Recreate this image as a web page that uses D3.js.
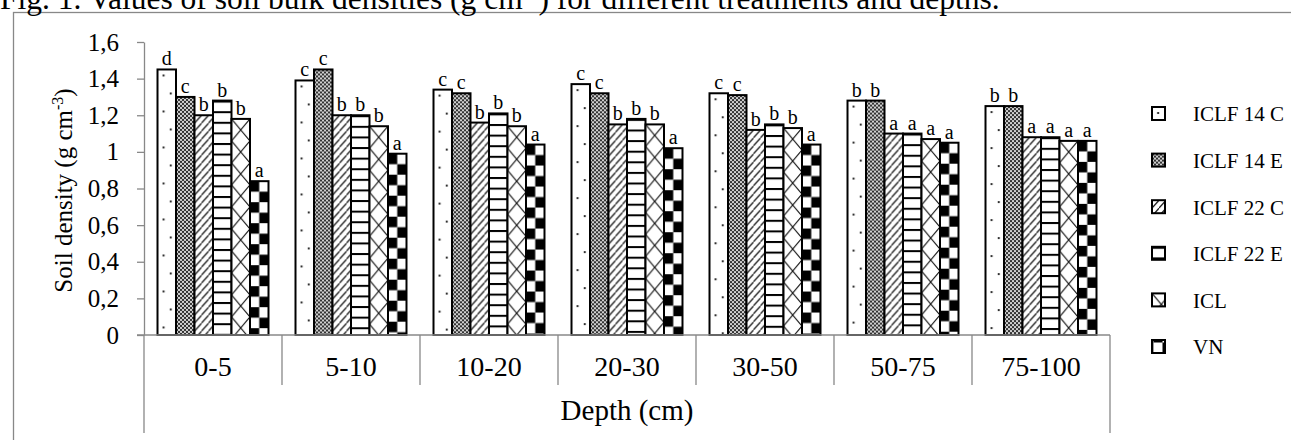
<!DOCTYPE html>
<html>
<head>
<meta charset="utf-8">
<script src="https://cdn.jsdelivr.net/npm/d3@7"></script>
<style>
  html, body { margin: 0; padding: 0; background: #fff; }
  svg { display: block; }
  text { font-family: "Liberation Serif", "Times New Roman", serif; fill: #000; }
</style>
</head>
<body>
<svg id="chart" width="1291" height="440"></svg>
<script>
// ---------------- data ----------------
const categories = ["0-5", "5-10", "10-20", "20-30", "30-50", "50-75", "75-100"];
const seriesNames = ["ICLF 14 C", "ICLF 14 E", "ICLF 22 C", "ICLF 22 E", "ICL", "VN"];
const iclf14C = [1.45, 1.39, 1.34, 1.37, 1.32, 1.28, 1.25];
const iclf14E = [1.30, 1.45, 1.32, 1.32, 1.31, 1.28, 1.25];
const iclf22C = [1.20, 1.20, 1.16, 1.15, 1.12, 1.10, 1.08];
const iclf22E = [1.28, 1.20, 1.21, 1.18, 1.15, 1.10, 1.08];
const icl     = [1.18, 1.14, 1.14, 1.15, 1.13, 1.07, 1.06];
const vn      = [0.84, 0.99, 1.04, 1.02, 1.04, 1.05, 1.06];
const letters14C = ["d", "c", "c", "c", "c", "b", "b"];
const letters14E = ["c", "c", "c", "c", "c", "b", "b"];
const letters22C = ["b", "b", "b", "b", "b", "a", "a"];
const letters22E = ["b", "b", "b", "b", "b", "a", "a"];
const lettersICL = ["b", "b", "b", "b", "b", "a", "a"];
const lettersVN  = ["a", "a", "a", "a", "a", "a", "a"];
const yTicks = [0, 0.2, 0.4, 0.6, 0.8, 1, 1.2, 1.4, 1.6];
const yTickLabels = ["0", "0,2", "0,4", "0,6", "0,8", "1", "1,2", "1,4", "1,6"];
const titleText = "Fig. 1. Values of soil bulk densities (g cm";
const titleTail = ") for different treatments and depths.";
const yTitle = "Soil density (g cm";
const xTitle = "Depth (cm)";

const seriesValues = [iclf14C, iclf14E, iclf22C, iclf22E, icl, vn];
const seriesLetters = [letters14C, letters14E, letters22C, letters22E, lettersICL, lettersVN];

// ---------------- setup ----------------
const svg = d3.select("#chart");
const W = 1291, H = 440;
const plotLeft = 144, plotRight = 1110, plotTop = 42, plotBottom = 335;

const x0 = d3.scaleBand().domain(categories).range([plotLeft, plotRight]).paddingInner(0).paddingOuter(0);
const x1 = d3.scaleBand().domain(seriesNames).range([0, x0.bandwidth()]).paddingInner(0).paddingOuter(0.73);
const y = d3.scaleLinear().domain([0, 1.6]).range([plotBottom, plotTop]);
const bw = x1.bandwidth();

// outer frame
svg.append("rect").attr("x", 13.5).attr("y", 12.5).attr("width", W + 20).attr("height", H + 20)
  .attr("fill", "none").attr("stroke", "#888").attr("stroke-width", 1.3);

// title (clipped at the top like the reference)
const tt = svg.append("text").attr("x", 0).attr("y", 9).attr("font-size", 31.5);
tt.append("tspan").text(titleText);
tt.append("tspan").attr("dy", -11).attr("font-size", 19).text("-3");
tt.append("tspan").attr("dy", 11).text(titleTail);

// ---------------- patterns ----------------
const defs = svg.append("defs");
function makePattern(id, s, ox, oy) {
  const p = defs.append("pattern").attr("id", id).attr("patternUnits", "userSpaceOnUse")
    .attr("x", ox).attr("y", oy);
  if (s === 0) { // sparse dots
    p.attr("width", bw).attr("height", 36);
    p.append("rect").attr("width", bw).attr("height", 36).attr("fill", "#fff");
    p.append("circle").attr("cx", bw * 0.33).attr("cy", 6).attr("r", 1.1).attr("fill", "#000");
    p.append("circle").attr("cx", bw * 0.72).attr("cy", 24).attr("r", 1.1).attr("fill", "#000");
  } else if (s === 1) { // dense dots (grey)
    p.attr("width", 4).attr("height", 4);
    p.append("rect").attr("width", 4).attr("height", 4).attr("fill", "#d0d0d0");
    p.append("rect").attr("x", 0).attr("y", 0).attr("width", 2).attr("height", 2).attr("fill", "#333");
    p.append("rect").attr("x", 2).attr("y", 2).attr("width", 2).attr("height", 2).attr("fill", "#333");
  } else if (s === 2) { // diagonal hatch
    p.attr("width", 7).attr("height", 8);
    p.append("rect").attr("width", 7).attr("height", 8).attr("fill", "#fff");
    p.append("path").attr("d", "M-1,9 L8,-1 M-4,4 L3,-4 M4,12 L11,4").attr("stroke", "#000").attr("stroke-width", 1.2);
  } else if (s === 3) { // horizontal lines
    p.attr("width", bw).attr("height", 10.6);
    p.append("rect").attr("width", bw).attr("height", 10.6).attr("fill", "#fff");
    p.append("rect").attr("x", 0).attr("y", 0).attr("width", bw).attr("height", 2).attr("fill", "#000");
  } else if (s === 4) { // diamond cross hatch
    p.attr("width", bw).attr("height", 22);
    p.append("rect").attr("width", bw).attr("height", 22).attr("fill", "#fff");
    p.append("path").attr("d", `M0,0 L${bw},22 M${bw},0 L0,22`).attr("stroke", "#000").attr("stroke-width", 1.1);
  } else { // big checker
    p.attr("width", bw).attr("height", 21);
    p.append("rect").attr("width", bw).attr("height", 21).attr("fill", "#fff");
    p.append("rect").attr("x", 0).attr("y", 0).attr("width", bw / 2).attr("height", 10.5).attr("fill", "#000");
    p.append("rect").attr("x", bw / 2).attr("y", 10.5).attr("width", bw / 2).attr("height", 10.5).attr("fill", "#000");
  }
}

// ---------------- bars ----------------
const bars = [];
categories.forEach((c, ci) => {
  seriesNames.forEach((s, si) => {
    bars.push({ cat: c, ci, si, series: s, value: seriesValues[si][ci], letter: seriesLetters[si][ci] });
  });
});
bars.forEach(d => {
  d.x = x0(d.cat) + x1(d.series);
  makePattern(`pat-${d.ci}-${d.si}`, d.si, d.x, y(d.value));
});

const gBars = svg.append("g");
gBars.selectAll("rect").data(bars).join("rect")
  .attr("x", d => d.x)
  .attr("y", d => y(d.value))
  .attr("width", bw)
  .attr("height", d => y(0) - y(d.value))
  .attr("fill", d => `url(#pat-${d.ci}-${d.si})`)
  .attr("stroke", "#000").attr("stroke-width", 2);

gBars.selectAll("text").data(bars).join("text")
  .attr("x", d => d.x + bw / 2)
  .attr("y", d => y(d.value) - 4)
  .attr("text-anchor", "middle")
  .attr("font-size", 20)
  .text(d => d.letter);

// ---------------- axes ----------------
const yAxis = d3.axisLeft(y).tickValues(yTicks).tickFormat((d, i) => yTickLabels[i])
  .tickSize(7).tickSizeOuter(0).tickPadding(18);
const gy = svg.append("g").attr("transform", `translate(${plotLeft},0)`).call(yAxis);
gy.selectAll("path, line").attr("stroke", "#888").attr("stroke-width", 1.3);
gy.selectAll("text").attr("font-size", 25).attr("font-family", "Liberation Serif");

// horizontal base line
svg.append("line").attr("x1", plotLeft - 7).attr("x2", plotRight).attr("y1", y(0)).attr("y2", y(0))
  .attr("stroke", "#888").attr("stroke-width", 1.3);

// category dividers
const bounds = categories.map(c => x0(c)).concat([x0(categories[categories.length - 1]) + x0.bandwidth()]);
svg.append("g").selectAll("line").data(bounds).join("line")
  .attr("x1", d => d).attr("x2", d => d)
  .attr("y1", y(0))
  .attr("y2", (d, i) => (i === 0 || i === bounds.length - 1) ? 433 : 385)
  .attr("stroke", "#888").attr("stroke-width", 1.3);

// category labels
const xAxis = d3.axisBottom(x0).tickSize(0).tickPadding(0);
const gx = svg.append("g").attr("transform", `translate(0,${y(0)})`).call(xAxis);
gx.select(".domain").remove();
gx.selectAll("text").attr("font-size", 28).attr("font-family", "Liberation Serif")
  .attr("dy", null).attr("y", 41);

// x title
svg.append("text").attr("x", (plotLeft + plotRight) / 2).attr("y", 420)
  .attr("text-anchor", "middle").attr("font-size", 29).text(xTitle);

// y title
const yt = svg.append("text").attr("transform", `translate(72,${(plotTop + plotBottom) / 2 + 2}) rotate(-90)`)
  .attr("text-anchor", "middle").attr("font-size", 25);
yt.append("tspan").text(yTitle);
yt.append("tspan").attr("dy", -9).attr("font-size", 16).text("-3");
yt.append("tspan").attr("dy", 9).text(")");

// ---------------- legend ----------------
const legY = d3.scalePoint().domain(seriesNames).range([114, 347]);
const gl = svg.append("g");
seriesNames.forEach((s, si) => {
  if (si === 5) makePattern(`lpat-${si}`, si, 1152 - 8, legY(s) - 4.5);
  else makePattern(`lpat-${si}`, si, 1152, legY(s) - 7);
});
gl.selectAll("rect").data(seriesNames).join("rect")
  .attr("x", 1152).attr("y", d => legY(d) - 7).attr("width", 13).attr("height", 13)
  .attr("fill", (d, i) => `url(#lpat-${i})`).attr("stroke", "#000").attr("stroke-width", 2);
gl.selectAll("text").data(seriesNames).join("text")
  .attr("x", 1193).attr("y", d => legY(d)).attr("dy", "0.35em")
  .attr("font-size", 21).text(d => d);
</script>
</body>
</html>
